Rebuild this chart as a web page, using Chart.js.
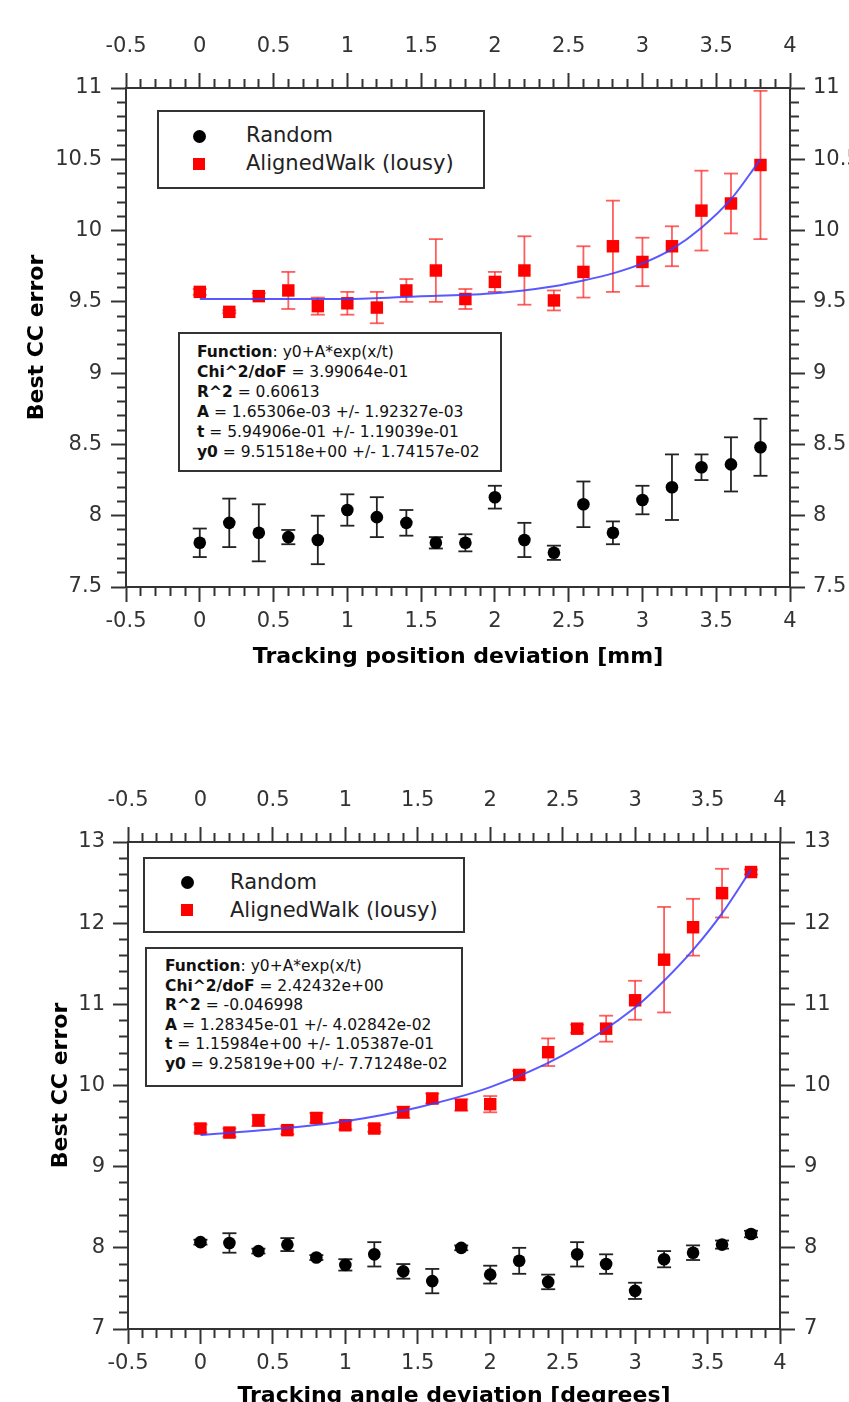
<!DOCTYPE html>
<html>
<head>
<meta charset="utf-8">
<script src="https://cdn.jsdelivr.net/npm/chart.js@4.4.1/dist/chart.umd.min.js"></script>
<style>
    html, body { margin: 0; padding: 0; background: #fff; }
    body { width: 849px; height: 1402px; overflow: hidden; position: relative; font-family: "DejaVu Sans", sans-serif; color: #222; }
    .panel { position: absolute; left: 0; width: 849px; height: 701px; }
    .box { position: absolute; box-sizing: border-box; border: 2px solid #333; background: #fff; }
    .entry { position: absolute; font-size: 21px; line-height: 28px; white-space: nowrap; }
    .dot { position: absolute; width: 13px; height: 13px; border-radius: 50%; background: #000; }
    .sq { position: absolute; width: 12px; height: 12px; background: #ff0000; }
    .stats { position: absolute; font-size: 15.5px; white-space: nowrap; color: #111; }
    .stats b { font-weight: bold; }
</style>
</head>
<body>
<div class="panel" style="top:0"><canvas id="posChart" width="849" height="701"></canvas></div>
<div class="panel" style="top:701px"><canvas id="angChart" width="849" height="701"></canvas></div>

<!-- legenda e caixa de ajuste, gráfico de cima -->
<div class="box" style="left:157px;top:110px;width:328px;height:79px"></div>
<div class="dot" style="left:192.5px;top:129.5px"></div>
<div class="sq" style="left:193px;top:158px"></div>
<div class="entry" style="left:246px;top:121px">Random</div>
<div class="entry" style="left:246px;top:149px">AlignedWalk (lousy)</div>

<div class="box" style="left:178px;top:332px;width:324px;height:140px"></div>
<div class="stats" style="left:197px;top:342px;line-height:20px">
    <div><b>Function</b>: y0+A*exp(x/t)</div>
    <div><b>Chi^2/doF</b> = 3.99064e-01</div>
    <div><b>R^2</b> = 0.60613</div>
    <div><b>A</b> = 1.65306e-03 +/- 1.92327e-03</div>
    <div><b>t</b> = 5.94906e-01 +/- 1.19039e-01</div>
    <div><b>y0</b> = 9.51518e+00 +/- 1.74157e-02</div>
</div>

<!-- legenda e caixa de ajuste, gráfico de baixo -->
<div class="box" style="left:143px;top:857px;width:322px;height:76px"></div>
<div class="dot" style="left:180.5px;top:875.5px"></div>
<div class="sq" style="left:181px;top:904px"></div>
<div class="entry" style="left:230px;top:868px">Random</div>
<div class="entry" style="left:230px;top:896px">AlignedWalk (lousy)</div>

<div class="box" style="left:145px;top:947px;width:318px;height:140px"></div>
<div class="stats" style="left:165px;top:957px;line-height:19.5px">
    <div><b>Function</b>: y0+A*exp(x/t)</div>
    <div><b>Chi^2/doF</b> = 2.42432e+00</div>
    <div><b>R^2</b> = -0.046998</div>
    <div><b>A</b> = 1.28345e-01 +/- 4.02842e-02</div>
    <div><b>t</b> = 1.15984e+00 +/- 1.05387e-01</div>
    <div><b>y0</b> = 9.25819e+00 +/- 7.71248e-02</div>
</div>

<script>
// Dados
const deviations = [0, 0.2, 0.4, 0.6, 0.8, 1.0, 1.2, 1.4, 1.6, 1.8, 2.0, 2.2, 2.4, 2.6, 2.8, 3.0, 3.2, 3.4, 3.6, 3.8];
const xMajorTicks = [-0.5, 0, 0.5, 1, 1.5, 2, 2.5, 3, 3.5, 4];

// desvio de posição [mm]
const posRandom = [7.81, 7.95, 7.88, 7.85, 7.83, 8.04, 7.99, 7.95, 7.81, 7.81, 8.13, 7.83, 7.74, 8.08, 7.88, 8.11, 8.20, 8.34, 8.36, 8.48];
const posRandomErr = [0.10, 0.17, 0.20, 0.05, 0.17, 0.11, 0.14, 0.09, 0.04, 0.06, 0.08, 0.12, 0.05, 0.16, 0.08, 0.10, 0.23, 0.09, 0.19, 0.20];
const posAligned = [9.57, 9.43, 9.54, 9.58, 9.47, 9.49, 9.46, 9.58, 9.72, 9.52, 9.64, 9.72, 9.51, 9.71, 9.89, 9.78, 9.89, 10.14, 10.19, 10.46];
const posAlignedErr = [0.02, 0.01, 0.02, 0.13, 0.06, 0.08, 0.11, 0.08, 0.22, 0.07, 0.07, 0.24, 0.07, 0.18, 0.32, 0.17, 0.14, 0.28, 0.21, 0.52];
const posFitX = [0, 0.5, 1, 1.5, 2, 2.4, 2.6, 2.8, 3.0, 3.2, 3.4, 3.6, 3.8];
const posFitY = [9.52, 9.52, 9.52, 9.54, 9.56, 9.61, 9.65, 9.70, 9.77, 9.87, 10.02, 10.22, 10.50];
const posYMajorTicks = [7.5, 8, 8.5, 9, 9.5, 10, 10.5, 11];

// desvio de ângulo [graus]
const angRandom = [8.07, 8.06, 7.96, 8.04, 7.88, 7.79, 7.92, 7.71, 7.59, 8.00, 7.67, 7.84, 7.58, 7.92, 7.80, 7.47, 7.86, 7.94, 8.04, 8.17];
const angRandomErr = [0.03, 0.12, 0.03, 0.08, 0.03, 0.07, 0.15, 0.09, 0.15, 0.03, 0.11, 0.16, 0.09, 0.15, 0.12, 0.10, 0.10, 0.09, 0.05, 0.04];
const angAligned = [9.47, 9.42, 9.57, 9.45, 9.60, 9.51, 9.47, 9.67, 9.84, 9.76, 9.77, 10.13, 10.41, 10.70, 10.70, 11.05, 11.55, 11.95, 12.37, 12.63];
const angAlignedErr = [0.05, 0.05, 0.07, 0.05, 0.06, 0.05, 0.04, 0.07, 0.06, 0.07, 0.10, 0.05, 0.17, 0.05, 0.16, 0.24, 0.65, 0.35, 0.30, 0.03];
const angFitX = [0, 0.5, 1, 1.5, 2, 2.5, 3, 3.2, 3.4, 3.6, 3.8];
const angFitY = [9.39, 9.46, 9.56, 9.73, 9.98, 10.37, 10.96, 11.29, 11.67, 12.12, 12.66];
const angYMajorTicks = [7, 8, 9, 10, 11, 12, 13];

const FONT = 'DejaVu Sans';

function points(xs, ys) {
    return xs.map((x, i) => ({ x: x, y: ys[i] }));
}

// cada barra: ponto de baixo, ponto de cima, e um null para quebrar a linha
function errorBars(xs, ys, errs) {
    const out = [];
    xs.forEach((x, i) => {
        out.push({ x: x, y: ys[i] - errs[i] }, { x: x, y: ys[i] + errs[i] }, { x: x, y: null });
    });
    return out;
}

function makeAxis(position, min, max, step, majors, o) {
    const isMajor = v => majors.some(m => Math.abs(m - v) < 1e-6);
    const outerFirst = position === 'top' || position === 'left';
    const axis = {
        type: 'linear',
        position: position,
        min: min,
        max: max,
        grid: {
            drawOnChartArea: false,
            tickLength: 15,
            tickWidth: 2,
            tickColor: '#333',
            tickBorderDash: ctx => (ctx.tick && isMajor(ctx.tick.value)) ? [] : (outerFirst ? [0, 6, 8, 100] : [8, 100])
        },
        border: { display: true, color: '#333', width: 2 },
        ticks: {
            stepSize: step,
            autoSkip: false,
            maxRotation: 0,
            minRotation: 0,
            padding: o.pad,
            color: '#333',
            font: { family: FONT, size: 21 },
            callback: v => isMajor(v) ? String(+Number(v).toFixed(1)) : ''
        },
        afterFit: s => {
            if (s.isHorizontal()) s.height = o.size; else s.width = o.size;
        }
    };
    if (o.title) {
        axis.title = {
            display: true,
            text: o.title,
            color: '#000',
            font: { family: FONT, size: 22, weight: 'bold' },
            padding: o.titlePad
        };
    }
    return axis;
}

function buildChart(canvasId, d) {
    const ctx = document.getElementById(canvasId).getContext('2d');
    return new Chart(ctx, {
        type: 'scatter',
        data: {
            datasets: [
                {
                    label: 'fit',
                    data: points(d.fitX, d.fitY),
                    showLine: true,
                    pointRadius: 0,
                    borderColor: 'rgba(60, 60, 255, 0.85)',
                    borderWidth: 2,
                    cubicInterpolationMode: 'monotone',
                    order: 0
                },
                {
                    label: 'AlignedWalk (lousy)',
                    data: points(deviations, d.aligned),
                    pointStyle: 'rect',
                    pointRadius: 8.8,
                    backgroundColor: '#ff0000',
                    borderColor: '#ff0000',
                    pointBorderWidth: 0,
                    order: 1
                },
                {
                    label: 'Random',
                    data: points(deviations, d.random),
                    pointStyle: 'circle',
                    pointRadius: 6.3,
                    backgroundColor: '#000',
                    borderColor: '#000',
                    pointBorderWidth: 0,
                    order: 1
                },
                {
                    label: 'AlignedWalk err',
                    data: errorBars(deviations, d.aligned, d.alignedErr),
                    showLine: true,
                    spanGaps: false,
                    pointStyle: 'line',
                    pointRadius: 7,
                    borderColor: 'rgba(255, 40, 40, 0.75)',
                    pointBorderColor: 'rgba(255, 40, 40, 0.75)',
                    borderWidth: 1.8,
                    pointBorderWidth: 1.8,
                    order: 2
                },
                {
                    label: 'Random err',
                    data: errorBars(deviations, d.random, d.randomErr),
                    showLine: true,
                    spanGaps: false,
                    pointStyle: 'line',
                    pointRadius: 7,
                    borderColor: '#222',
                    pointBorderColor: '#222',
                    borderWidth: 1.8,
                    pointBorderWidth: 1.8,
                    order: 2
                }
            ]
        },
        options: {
            responsive: false,
            animation: false,
            events: [],
            layout: { padding: 0 },
            plugins: {
                legend: { display: false },
                tooltip: { enabled: false }
            },
            scales: {
                x: makeAxis('bottom', -0.5, 4, 0.1, xMajorTicks, d.bottom),
                x2: makeAxis('top', -0.5, 4, 0.1, xMajorTicks, d.top),
                y: makeAxis('left', d.yMin, d.yMax, d.yStep, d.yMajors, d.left),
                y2: makeAxis('right', d.yMin, d.yMax, d.yStep, d.yMajors, d.right)
            }
        }
    });
}

buildChart('posChart', {
    random: posRandom, randomErr: posRandomErr,
    aligned: posAligned, alignedErr: posAlignedErr,
    fitX: posFitX, fitY: posFitY,
    yMin: 7.5, yMax: 11, yStep: 0.1, yMajors: posYMajorTicks,
    bottom: { size: 114, pad: 7, title: 'Tracking position deviation [mm]', titlePad: { top: 0, bottom: 30.8 } },
    top: { size: 88, pad: 14 },
    left: { size: 126, pad: 9, title: 'Best CC error', titlePad: { top: 23.8, bottom: 0 } },
    right: { size: 59, pad: 8 }
});

buildChart('angChart', {
    random: angRandom, randomErr: angRandomErr,
    aligned: angAligned, alignedErr: angAlignedErr,
    fitX: angFitX, fitY: angFitY,
    yMin: 7, yMax: 13, yStep: 0.2, yMajors: angYMajorTicks,
    bottom: { size: 73, pad: 7, title: 'Tracking angle deviation [degrees]', titlePad: { top: 0, bottom: -7.2 } },
    top: { size: 141, pad: 14 },
    left: { size: 128, pad: 8, title: 'Best CC error', titlePad: { top: 47.8, bottom: 0 } },
    right: { size: 69, pad: 9 }
});
</script>
</body>
</html>
